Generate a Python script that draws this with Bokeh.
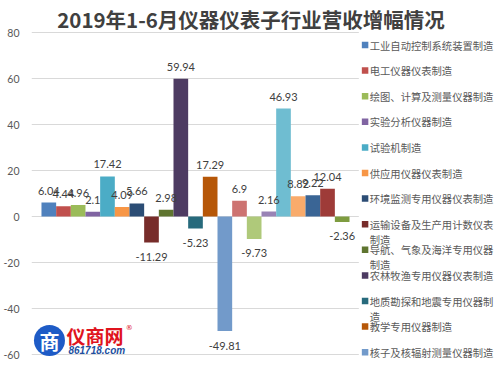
from bokeh.plotting import figure
from bokeh.models import Range1d, FixedTicker, ColumnDataSource
from bokeh.embed import file_html
from bokeh.resources import INLINE
from bokeh.core.properties import value

title_text = "2019年1-6月仪器仪表子行业营收增幅情况"

series_values = [6.04, 4.44, 4.96, 2.1, 17.42, 4.09, 5.66, -11.29, 2.98, 59.94,
                 -5.23, 17.29, -49.81, 6.9, -9.73, 2.16, 46.93, 8.82, 9.22, 12.04, -2.36]

series_colors = ["#4F81BD", "#C0504D", "#9BBB59", "#8064A2", "#4BACC6", "#F79646",
                 "#2C4D75", "#772C2A", "#5F7530", "#4D3B62", "#276A7C", "#B65708",
                 "#729ACA", "#CD7371", "#AFC97A", "#9983B5", "#6FBDD1", "#F9AB6B",
                 "#3A6595", "#9E3B38", "#7E9C40"]

legend_names = [
    ["工业自动控制系统装置制造"],
    ["电工仪器仪表制造"],
    ["绘图、计算及测量仪器制造"],
    ["实验分析仪器制造"],
    ["试验机制造"],
    ["供应用仪器仪表制造"],
    ["环境监测专用仪器仪表制造"],
    ["运输设备及生产用计数仪表", "制造"],
    ["导航、气象及海洋专用仪器", "制造"],
    ["农林牧渔专用仪器仪表制造"],
    ["地质勘探和地震专用仪器制", "造"],
    ["教学专用仪器制造"],
    ["核子及核辐射测量仪器制造"],
]

y_ticks = [-60, -40, -20, 0, 20, 40, 60, 80]
y_tick_labels = ["-60", "-40", "-20", "0", "20", "40", "60", "80"]

# ---------------- layout constants (pixels) ----------------
W, H = 497, 370
FRAME_L = 30          # left edge of drawing frame (y-axis labels to its left)
PLOT_R = 358          # right end of the gridlines
BAR_PX = 14.7         # pixels per bar slot
BAR0_C = 47.35        # pixel centre of first bar
Y_MAX_PX, Y_MIN_PX = 32, 354   # pixel rows of the top (80) and bottom (-60) gridlines
Y_MAX, Y_MIN = y_ticks[-1], y_ticks[0]
KY = (Y_MIN_PX - Y_MAX_PX) / (Y_MAX - Y_MIN)

x_start = (FRAME_L - BAR0_C) / BAR_PX
x_end = (W - BAR0_C) / BAR_PX
grid_x1 = (PLOT_R - BAR0_C) / BAR_PX
y_end = Y_MAX + Y_MAX_PX / KY
y_start = Y_MIN - (H - Y_MIN_PX) / KY

p = figure(width=W, height=H, output_backend="svg", toolbar_location=None,
           x_range=Range1d(x_start, x_end), y_range=Range1d(y_start, y_end),
           x_axis_location=None, y_axis_location="left",
           min_border_left=FRAME_L, min_border_right=0, min_border_top=0,
           min_border_bottom=0)
p.outline_line_color = None
p.background_fill_color = "white"
p.border_fill_color = "white"
p.xgrid.grid_line_color = None
p.ygrid.grid_line_color = None

# pixel-space ranges for title / legend / watermark
p.extra_x_ranges = {"px": Range1d(FRAME_L, W)}
p.extra_y_ranges = {"px": Range1d(H, 0)}

ya = p.yaxis[0]
ya.ticker = FixedTicker(ticks=y_ticks)
ya.major_label_overrides = {t: l for t, l in zip(y_ticks, y_tick_labels)}
ya.axis_line_color = None
ya.major_tick_line_color = None
ya.minor_tick_line_color = None
ya.major_tick_out = 0
ya.major_tick_in = 0
ya.minor_tick_out = 0
ya.minor_tick_in = 0
ya.major_label_text_font = "Lato"
ya.major_label_text_font_size = "10.5px"
ya.major_label_text_color = "#595959"
ya.major_label_standoff = 12

# gridlines (stop at the plot's right edge, like the original)
p.segment(x0=[x_start] * len(y_ticks), x1=[grid_x1] * len(y_ticks),
          y0=y_ticks, y1=y_ticks, line_color="#D9D9D9", line_width=1)

# bars + data labels
idx = list(range(len(series_values)))
labels = [f"{v:g}" for v in series_values]
offsets = [-12 if v >= 0 else 14.5 for v in series_values]
src = ColumnDataSource(dict(x=idx, top=series_values, color=series_colors,
                            label=labels, yoff=offsets))
p.vbar(x="x", top="top", bottom=0, width=1.0, fill_color="color",
       line_color=None, source=src)
p.text(x="x", y="top", text="label", y_offset="yoff", source=src,
       text_align="center", text_baseline="middle",
       text_font=value("Lato"), text_font_size="11px", text_color="#404040")

# title
p.text(x=[250], y=[18], text=[title_text], x_range_name="px", y_range_name="px",
       text_align="center", text_baseline="middle",
       text_font=value("Noto Sans CJK SC"), text_font_style="bold",
       text_font_size="20.5px", text_color="#404040")

# legend
sq_x, sq_y, sq_c = [], [], []
tx, ty, tt = [], [], []
for i, (name, col) in enumerate(zip(legend_names, series_colors)):
    Y = 44.5 + 25.6 * i
    sq_x.append(364.3)
    sq_y.append(Y)
    sq_c.append(col)
    for j, line in enumerate(name):
        tx.append(369)
        ty.append(Y + 15 * j)
        tt.append(line)
p.scatter(x=sq_x, y=sq_y, marker="square", size=6.5, fill_color=sq_c,
          line_color=None, x_range_name="px", y_range_name="px")
p.text(x=tx, y=ty, text=tt, x_range_name="px", y_range_name="px",
       text_align="left", text_baseline="middle",
       text_font=value("Noto Sans CJK SC"), text_font_size="10.3px",
       text_color="#595959")

# watermark logo
p.scatter(x=[48], y=[340], marker="circle", size=31, fill_color="#1E5BC6",
          line_color=None, x_range_name="px", y_range_name="px")
p.text(x=[48], y=[341], text=["商"], x_range_name="px", y_range_name="px",
       text_align="center", text_baseline="middle",
       text_font=value("Noto Sans CJK SC"), text_font_style="bold",
       text_font_size="20px", text_color="white")
p.text(x=[65], y=[335], text=["仪商网"], x_range_name="px", y_range_name="px",
       text_align="left", text_baseline="middle",
       text_font=value("Noto Sans CJK SC"), text_font_style="bold",
       text_font_size="19px", text_color="#E0141E")
p.text(x=[128], y=[327], text=["®"], x_range_name="px", y_range_name="px",
       text_align="center", text_baseline="middle",
       text_font=value("DejaVu Sans"), text_font_size="7px", text_color="#E0141E")
p.text(x=[67], y=[350], text=["861718.com"], x_range_name="px", y_range_name="px",
       text_align="left", text_baseline="middle",
       text_font=value("Liberation Sans"), text_font_style="bold italic",
       text_font_size="10px", text_color="#1E4FA0")

open("out.html", "w").write(file_html(p, INLINE))
